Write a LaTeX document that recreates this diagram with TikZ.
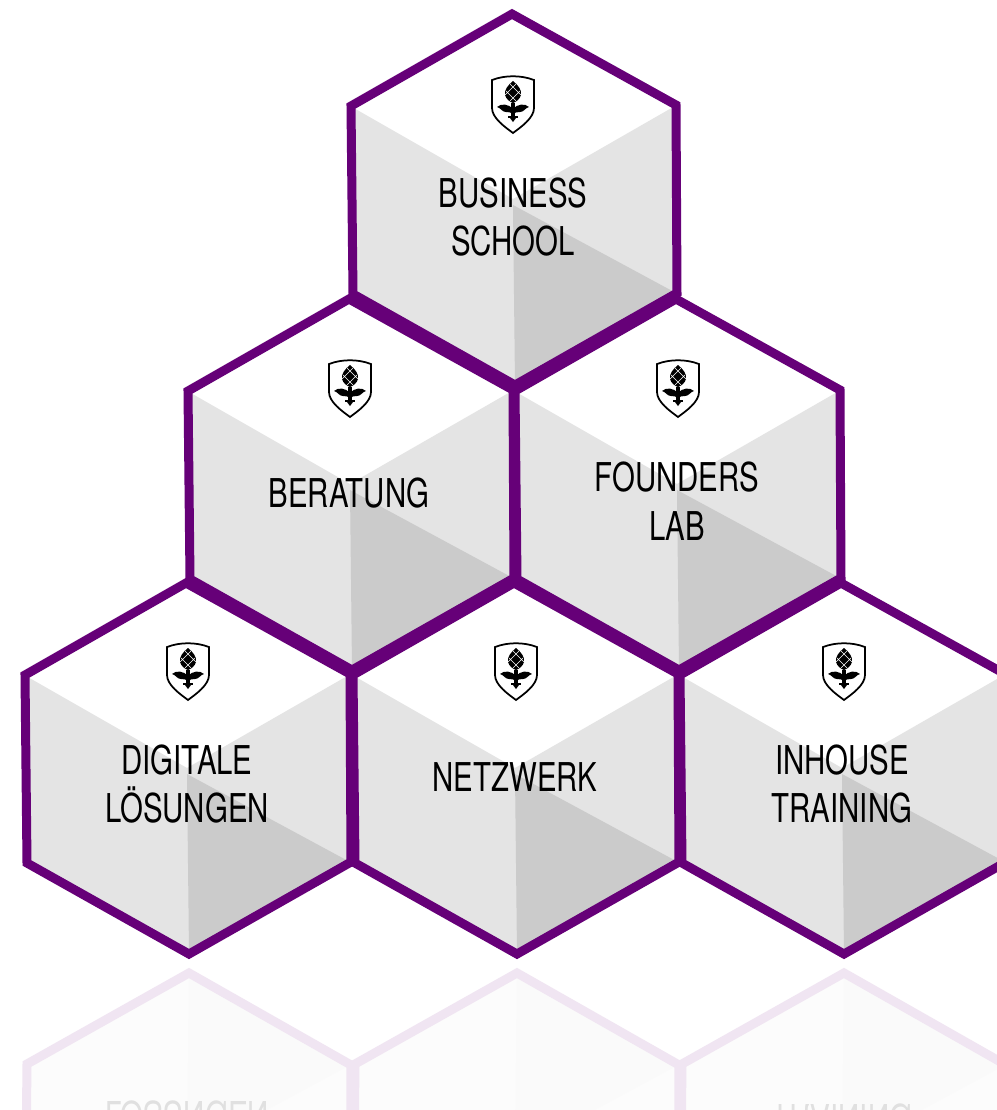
\documentclass[tikz,border=0pt]{standalone}
\usepackage{fontspec}
\setmainfont[FakeStretch=0.74]{TeX Gyre Heros}
\usetikzlibrary{calc}
\definecolor{cubeline}{HTML}{660078}
\definecolor{cubelight}{HTML}{E4E4E4}
\definecolor{cubedark}{HTML}{CBCBCB}
\definecolor{cubetext}{HTML}{000000}
\tikzset{cubelabel/.style={align=center,text=cubetext,inner sep=0pt,font=\fontsize{22.6}{27.8}\selectfont}}
% faces of one cube, centre given in pixels of the picture
\def\cubeface(#1,#2){
	\fill[cubelight] ($(#1,#2)+(-161,-92)$) -- (#1,#2) -- ($(#1,#2)+(162,-93)$) -- ($(#1,#2)+(163,94)$) -- ($(#1,#2)+(2,185)$) -- ($(#1,#2)+(-160,95)$) -- cycle;
	\fill[cubedark] ($(#1,#2)+(0,6)$) -- ($(#1,#2)+(163,94)$) -- ($(#1,#2)+(2,185)$) -- cycle;
}
\def\cubeline(#1,#2){
	\draw[line width=0.18cm, color=cubeline, miter limit=4] ($(#1,#2)+(-1,-185)$) -- ($(#1,#2)+(163,-94)$) -- ($(#1,#2)+(164,94)$) -- ($(#1,#2)+(2,186)$) -- ($(#1,#2)+(-160,95)$) -- ($(#1,#2)+(-162,-93)$) -- cycle;
}
% small shield above the label
\def\crest(#1,#2){
	\begin{scope}[shift={(#1,#2)}]
		\draw[line width=0.035cm, fill=white] (-21,-50) .. controls (-8,-55) and (8,-55) .. (21,-50) -- (21,-22) .. controls (21,-12) and (8,-3) .. (0,3) .. controls (-8,-3) and (-21,-12) .. (-21,-22) -- cycle;
		\fill[black] (0,-49) .. controls (5,-45) and (9,-40) .. (8,-35) .. controls (7,-31) and (3,-28) .. (0,-27) .. controls (-3,-28) and (-7,-31) .. (-8,-35) .. controls (-9,-40) and (-5,-45) .. (0,-49) -- cycle;
		\draw[white, line width=0.012cm] (-7,-39) -- (3,-29) (-3,-46) -- (8,-35) (7,-39) -- (-3,-29) (3,-46) -- (-8,-35);
		\fill[black] (-2,-27) rectangle (2,-13);
		\fill[black] (0,-21) .. controls (-4,-26) and (-12,-27) .. (-16,-23) .. controls (-12,-22) and (-11,-18) .. (-7,-18) .. controls (-4,-18) and (-2,-18) .. (0,-15) -- cycle;
		\fill[black] (0,-21) .. controls (4,-26) and (12,-27) .. (16,-23) .. controls (12,-22) and (11,-18) .. (7,-18) .. controls (4,-18) and (2,-18) .. (0,-15) -- cycle;
		\fill[black] (-5,-14) rectangle (5,-12);
		\fill[black] (0,-8) -- (-3,-12) -- (3,-12) -- cycle;
	\end{scope}
}
\begin{document}
\begin{tikzpicture}[x=0.02cm,y=-0.02cm]
	%%%%% START %%%%%
	\useasboundingbox (0,0) rectangle (997,1110);
	\clip (0,0) rectangle (997,1110);
	
	\fill[white] (0,0) rectangle (997,1110);
	
	% reflection
	\begin{scope}[shift={(0,963.5)},yscale=-1,shift={(0,-963.5)}]
		\colorlet{cubeline}{cubeline!10!white}
		\colorlet{cubelight}{cubelight!12!white}
		\colorlet{cubedark}{cubedark!10!white}
		\colorlet{cubetext}{black!12}
		\cubeface(187,768)
		\cubeface(515,768)
		\cubeface(842,768)
		\cubeline(187,768)
		\cubeline(515,768)
		\cubeline(842,768)
		\node[cubelabel, transform shape] (mirrorloesungen) at (187,808) {LÖSUNGEN};
		\node[cubelabel, transform shape] (mirrortraining) at (842,808) {TRAINING};
	\end{scope}
	
	\cubeface(513,199)
	\cubeface(350,484)
	\cubeface(677,484)
	\cubeface(187,768)
	\cubeface(515,768)
	\cubeface(842,768)
	
	\cubeline(513,199)
	\cubeline(350,484)
	\cubeline(677,484)
	\cubeline(187,768)
	\cubeline(515,768)
	\cubeline(842,768)
	
	\crest(513,130)
	\crest(350,414)
	\crest(678,414)
	\crest(188,697)
	\crest(516,697)
	\crest(844,697)
	
	\node[cubelabel] (school) at (513,217) {BUSINESS\\SCHOOL};
	\node[cubelabel] (beratung) at (349,493) {BERATUNG};
	\node[cubelabel] (founders) at (677,501) {FOUNDERS\\LAB};
	\node[cubelabel] (digital) at (187,784) {DIGITALE\\LÖSUNGEN};
	\node[cubelabel] (netzwerk) at (515,777) {NETZWERK};
	\node[cubelabel] (inhouse) at (842,784) {INHOUSE\\TRAINING};
	%%%%% END %%%%%
\end{tikzpicture}
\end{document}
